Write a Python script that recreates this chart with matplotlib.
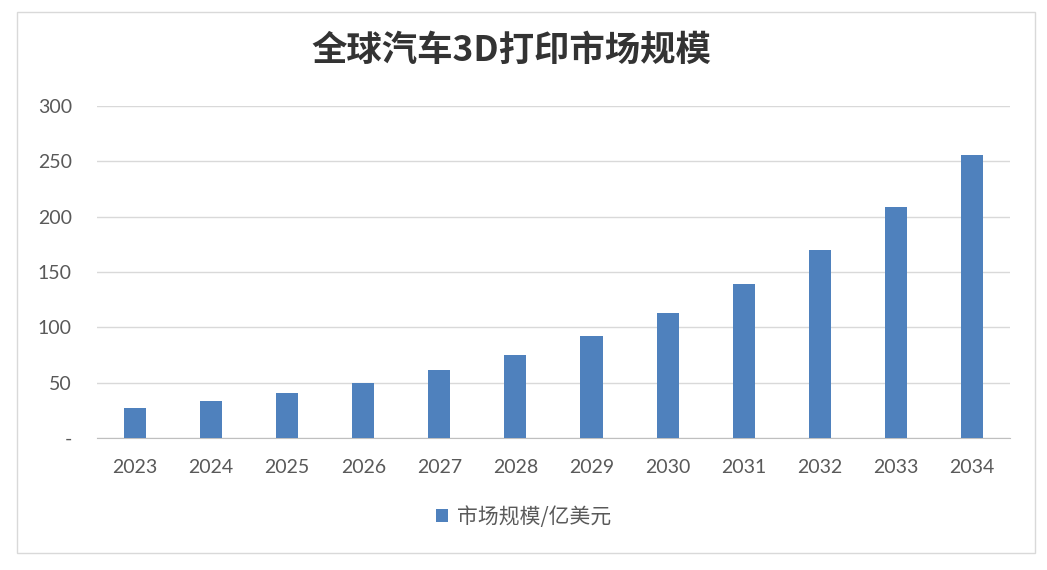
import matplotlib.pyplot as plt
from matplotlib.patches import Rectangle

# data
years = ['2023', '2024', '2025', '2026', '2027', '2028',
         '2029', '2030', '2031', '2032', '2033', '2034']
market_size = [27, 33, 41, 50, 61, 75, 92.5, 113, 139, 170, 208.5, 256]
y_ticks = [0, 50, 100, 150, 200, 250, 300]
y_tick_labels = ['-', '50', '100', '150', '200', '250', '300']

plt.rcParams['font.family'] = ['Noto Sans CJK SC', 'DejaVu Sans']

fig = plt.figure(figsize=(10.47, 5.7), dpi=100)
ax = fig.add_axes([0.0926, 0.2316, 0.872, 0.5825])

x = range(len(years))
ax.bar(x, market_size, width=0.29, color='#4F81BD', label='市场规模/亿美元', zorder=3)

ax.set_xlim(-0.5, len(years) - 0.5)
ax.set_ylim(0, 300)
ax.set_xticks(list(x))
ax.set_xticklabels(years, fontsize=14, color='#595959', family=['Lato', 'DejaVu Sans'])
ax.set_yticks(y_ticks)
ax.set_yticklabels(y_tick_labels, fontsize=14, color='#595959', family=['Lato', 'DejaVu Sans'])
ax.tick_params(axis='x', length=0, pad=15)
ax.tick_params(axis='y', length=0, pad=18)

ax.grid(axis='y', color='#D9D9D9', linewidth=1, zorder=0)
for side in ['top', 'right', 'left']:
    ax.spines[side].set_visible(False)
ax.spines['bottom'].set_color('#BFBFBF')

fig.text(0.4885, 0.912, '全球汽车3D打印市场规模', ha='center', va='center',
         fontsize=25.5, color='#333333', fontweight='bold')

fig.legend(loc='center', bbox_to_anchor=(0.5, 0.093), frameon=False,
           fontsize=15, handlelength=0.6, handleheight=0.6, handletextpad=0.4,
           labelcolor='#595959')

# outer chart border
fig.patches.append(Rectangle((0.0162, 0.0298), 0.9723, 0.949, transform=fig.transFigure,
                             fill=False, edgecolor='#D9D9D9', linewidth=1))

plt.savefig('out.png', dpi=100)
